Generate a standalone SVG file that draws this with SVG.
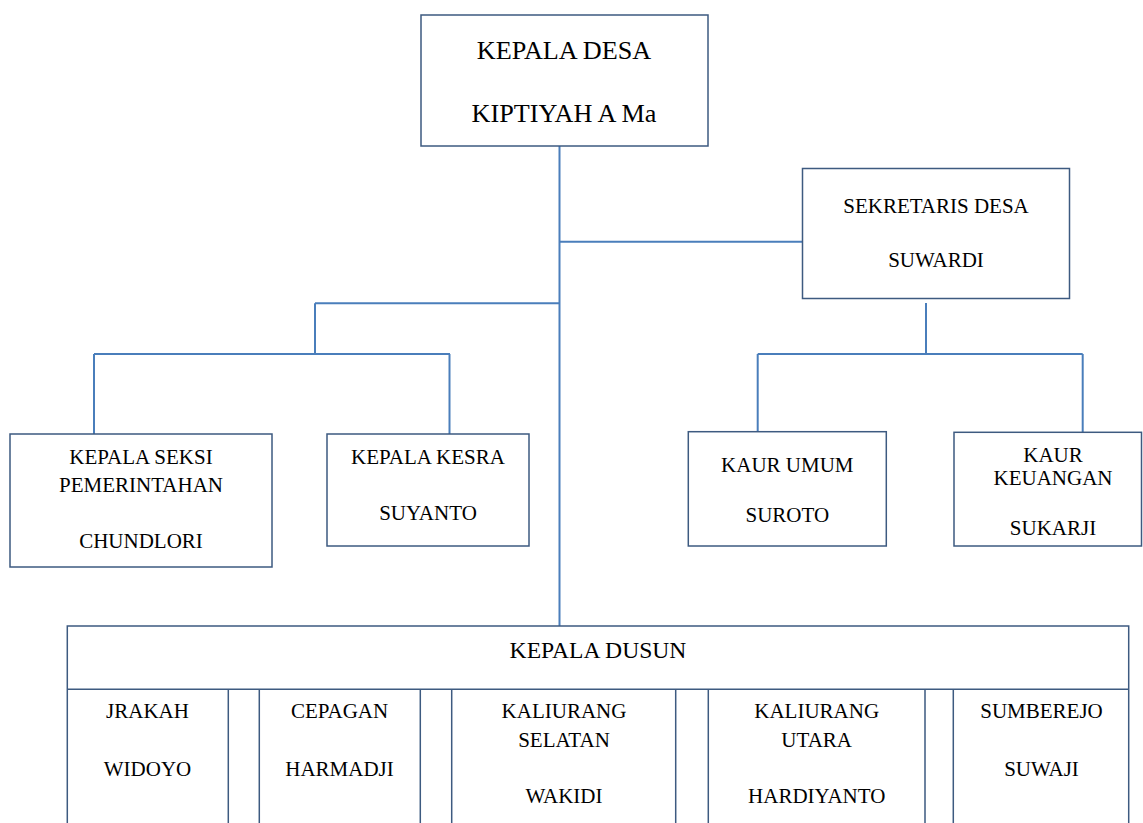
<svg xmlns="http://www.w3.org/2000/svg" width="1143" height="823" viewBox="0 0 1143 823" font-family="'Liberation Serif', 'DejaVu Serif', serif">
<style>
.box{fill:#ffffff;stroke:#3d5a80;stroke-width:1.5}
.line{fill:none;stroke:#4a7ebb;stroke-width:2}
text{font-family:'Liberation Serif','DejaVu Serif',serif;fill:#000;text-anchor:middle}
.t21{font-size:21px}
.t26{font-size:26.2px}
.t23{font-size:23.6px}
</style>
<rect width="1143" height="823" fill="#ffffff"/>
<g id="connectors">
<path class="line" d="M559.5,146 V626"/>
<path class="line" d="M559.5,241.7 H802.7"/>
<path class="line" d="M315,303.3 H559.5"/>
<path class="line" d="M315,303.3 V354"/>
<path class="line" d="M94,354 H450"/>
<path class="line" d="M94,354 V434"/>
<path class="line" d="M449.5,354 V434"/>
<path class="line" d="M926,303 V354"/>
<path class="line" d="M757.7,354 H1082.7"/>
<path class="line" d="M757.7,354 V432"/>
<path class="line" d="M1082.7,354 V433"/>
</g>
<g id="kepala-desa">
<rect class="box" x="421" y="15" width="287" height="131"/>
<text class="t26" x="564" y="58.5">KEPALA DESA</text>
<text class="t26" x="564" y="121.5">KIPTIYAH A Ma</text>
</g>
<g id="sekretaris-desa">
<rect class="box" x="802.5" y="168.5" width="267" height="130"/>
<text class="t21" x="936" y="212.7">SEKRETARIS DESA</text>
<text class="t21" x="936" y="266.7">SUWARDI</text>
</g>
<g id="kepala-seksi-pemerintahan">
<rect class="box" x="10" y="434" width="262" height="133"/>
<text class="t21" x="141" y="464">KEPALA SEKSI</text>
<text class="t21" x="141" y="491.7">PEMERINTAHAN</text>
<text class="t21" x="141" y="548.3">CHUNDLORI</text>
</g>
<g id="kepala-kesra">
<rect class="box" x="327" y="434" width="202" height="112"/>
<text class="t21" x="428" y="464">KEPALA KESRA</text>
<text class="t21" x="428" y="520">SUYANTO</text>
</g>
<g id="kaur-umum">
<rect class="box" x="688.3" y="431.7" width="198" height="114.3"/>
<text class="t21" x="787.3" y="471.7">KAUR UMUM</text>
<text class="t21" x="787.3" y="521.7">SUROTO</text>
</g>
<g id="kaur-keuangan">
<rect class="box" x="954" y="432.3" width="187.5" height="113.7"/>
<text class="t21" x="1053" y="461.7">KAUR</text>
<text class="t21" x="1053" y="485">KEUANGAN</text>
<text class="t21" x="1053" y="535">SUKARJI</text>
</g>
<g id="kepala-dusun">
<rect class="box" x="67.3" y="626" width="1061.4" height="220"/>
<path class="box" d="M67.3,689.3 H1128.7 M228.3,689.3 V830 M259.3,689.3 V830 M420.3,689.3 V830 M451.7,689.3 V830 M675.7,689.3 V830 M708.3,689.3 V830 M925,689.3 V830 M953.3,689.3 V830"/>
<text class="t23" x="598" y="658.3">KEPALA DUSUN</text>
</g>
<g id="dusun-jrakah">
<text class="t21" x="147.5" y="718.3">JRAKAH</text>
<text class="t21" x="147.5" y="775.7">WIDOYO</text>
</g>
<g id="dusun-cepagan">
<text class="t21" x="339.5" y="718.3">CEPAGAN</text>
<text class="t21" x="339.5" y="775.7">HARMADJI</text>
</g>
<g id="dusun-kaliurang-selatan">
<text class="t21" x="564" y="718.3">KALIURANG</text>
<text class="t21" x="564" y="746.7">SELATAN</text>
<text class="t21" x="564" y="803.3">WAKIDI</text>
</g>
<g id="dusun-kaliurang-utara">
<text class="t21" x="816.7" y="718.3">KALIURANG</text>
<text class="t21" x="816.7" y="746.7">UTARA</text>
<text class="t21" x="816.7" y="803.3">HARDIYANTO</text>
</g>
<g id="dusun-sumberejo">
<text class="t21" x="1041.5" y="718.3">SUMBEREJO</text>
<text class="t21" x="1041.5" y="775.7">SUWAJI</text>
</g>
</svg>
